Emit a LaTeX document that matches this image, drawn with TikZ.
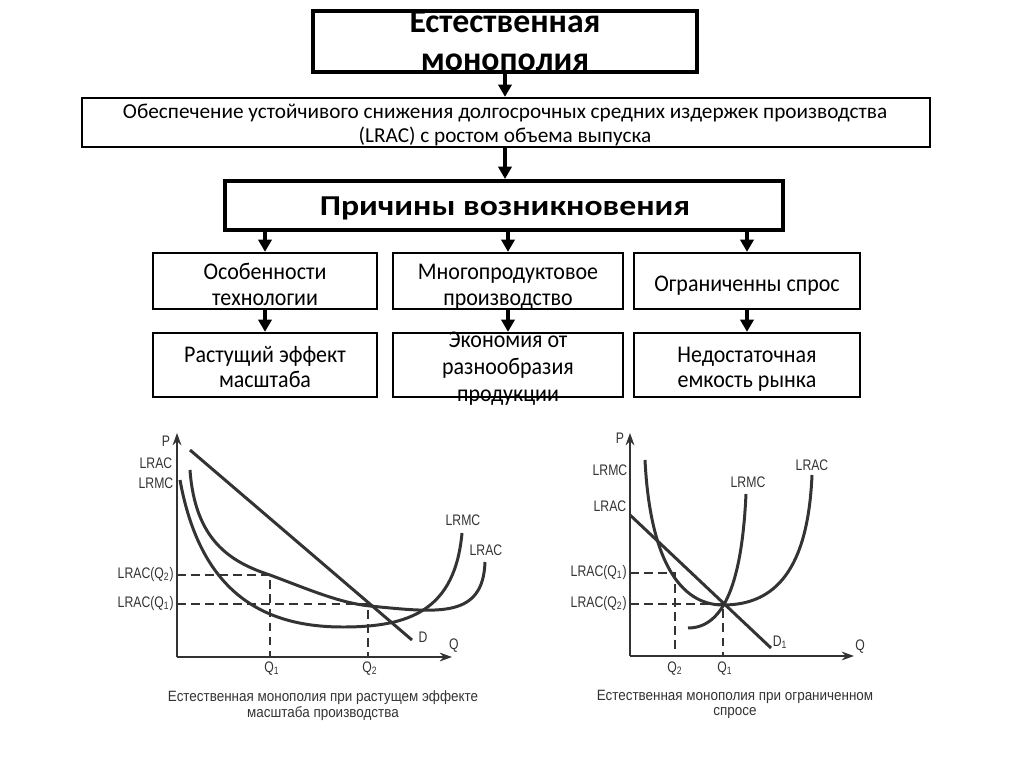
\documentclass[tikz,border=0pt]{standalone}
\usepackage{fontspec}
\setmainfont{Carlito}
\newfontfamily\gf[FakeStretch=0.8]{Liberation Sans}
\newfontfamily\gc[FakeStretch=0.9]{Liberation Sans}
\newfontfamily\bxf[FakeStretch=0.92]{Carlito}
\newfontfamily\prf[FakeStretch=1.17]{Carlito}
\usetikzlibrary{arrows.meta}
\definecolor{ink}{HTML}{333333}
\begin{document}
\begin{tikzpicture}[x=0.02cm,y=-0.02cm,
  thickbox/.style={draw, line width=2.3pt, inner sep=0pt},
  thinbox/.style={draw, line width=1.3pt, inner sep=0pt},
  ttl/.style={font=\bfseries\fontsize{19.2pt}{22pt}\selectfont, anchor=base, inner sep=0pt},
  prt/.style={font=\prf\bfseries\fontsize{16.4pt}{20pt}\selectfont, anchor=base, inner sep=0pt},
  mid/.style={font=\fontsize{12.1pt}{14pt}\selectfont, anchor=base, inner sep=0pt},
  bt/.style={font=\bxf\fontsize{13.6pt}{16pt}\selectfont, anchor=base, inner sep=0pt},
  flow/.style={-{Triangle[length=7pt,width=7.5pt]}, line width=1.8pt},
  axis/.style={-{Stealth[length=7pt,width=5pt]}, line width=0.9pt, draw=ink},
  crv/.style={line width=1.7pt, draw=ink},
  guide/.style={draw=ink, line width=0.6pt, dash pattern=on 5pt off 3pt},
  gl/.style={font=\gf\fontsize{8.7pt}{10pt}\selectfont, text=ink, inner sep=0pt},
  captxt/.style={font=\gc\fontsize{8.5pt}{10pt}\selectfont, text=ink, inner sep=0pt}
]
\useasboundingbox (0,0) rectangle (1024,767);
% ---------- flow chart ----------
\node[thickbox, minimum width=7.70cm, minimum height=1.22cm] (top) at (505,41.5) {};
\node[thinbox, minimum width=16.96cm, minimum height=0.98cm] (lr) at (506,122.5) {};
\node[thickbox, minimum width=11.16cm, minimum height=0.98cm] (pr) at (504,205.5) {};
\node[thinbox, minimum width=4.48cm, minimum height=1.12cm] (a1) at (265,281) {};
\node[thinbox, minimum width=4.60cm, minimum height=1.12cm] (b1) at (508,281) {};
\node[thinbox, minimum width=4.52cm, minimum height=1.12cm] (c1) at (747,281) {};
\node[thinbox, minimum width=4.48cm, minimum height=1.28cm] (a2) at (265,365) {};
\node[thinbox, minimum width=4.60cm, minimum height=1.28cm] (b2) at (508,365) {};
\node[thinbox, minimum width=4.52cm, minimum height=1.28cm] (c2) at (747,365) {};

\node[ttl] (t1) at (505,33) {Естественная};
\node[ttl] (t2) at (505,71) {монополия};
\node[mid] (l1) at (505,118) {Обеспечение устойчивого снижения долгосрочных средних издержек производства};
\node[mid] (l2) at (505,142) {(LRAC) с ростом объема выпуска};
\node[prt] (p1) at (505,215) {Причины возникновения};
\node[bt] (a1t) at (265,279) {Особенности};
\node[bt] (a1u) at (265,305) {технологии};
\node[bt] (b1t) at (508,279) {Многопродуктовое};
\node[bt] (b1u) at (508,305) {производство};
\node[bt] (c1t) at (747,291) {Ограниченны спрос};
\node[bt] (a2t) at (265,362) {Растущий эффект};
\node[bt] (a2u) at (265,387) {масштаба};
\node[bt] (b2t) at (508,347) {Экономия от};
\node[bt] (b2u) at (508,374) {разнообразия};
\node[bt] (b2v) at (508,401) {продукции};
\node[bt] (c2t) at (747,362) {Недостаточная};
\node[bt] (c2u) at (747,387) {емкость рынка};

\draw[flow] (top.south) -- (top.south |- lr.north);
\draw[flow] (lr.south -| top.south) -- (top.south |- pr.north);
\draw[flow] (pr.south -| a1.north) -- (a1.north);
\draw[flow] (pr.south -| b1.north) -- (b1.north);
\draw[flow] (pr.south -| c1.north) -- (c1.north);
\draw[flow] (a1.south) -- (a2.north);
\draw[flow] (b1.south) -- (b2.north);
\draw[flow] (c1.south) -- (c2.north);

% ---------- graph 1 ----------
\coordinate (O1) at (177,657);
\coordinate (Y1) at (177,433);
\coordinate (X1) at (452,657);
\draw[axis] (O1) -- (Y1);
\draw[axis] (O1) -- (X1);
\draw[guide] (177,575) -- (270,575) -- (270,657);
\draw[guide] (177,604) -- (368,604) -- (368,657);
\draw[crv] (190,450) -- (412,640);
\draw[crv] (180,480) .. controls (200,590) and (260,627) .. (343,627)
           .. controls (410,627) and (455,610) .. (462,533);
\draw[crv] (190,470) .. controls (195,540) and (230,562) .. (270,575)
           .. controls (310,590) and (340,603) .. (370,606)
           .. controls (440,613) and (483,618) .. (485,562);
\node[gl] (g1p) at (166,441) {P};
\node[gl] (g1a) at (156,463) {LRAC};
\node[gl] (g1m) at (156,483) {LRMC};
\node[gl, anchor=east] (g1q2) at (174,575) {LRAC(Q\textsubscript{2})};
\node[gl, anchor=east] (g1q1) at (174,604) {LRAC(Q\textsubscript{1})};
\node[gl] (g1x1) at (272,669) {Q\textsubscript{1}};
\node[gl] (g1x2) at (370,669) {Q\textsubscript{2}};
\node[gl] (g1q) at (454,646) {Q};
\node[gl] (g1d) at (423,637) {D};
\node[gl] (g1mr) at (463,520) {LRMC};
\node[gl] (g1ar) at (486,550) {LRAC};
\node[captxt] (g1c1) at (323,698) {Естественная монополия при растущем эффекте};
\node[captxt] (g1c2) at (323,714) {масштаба производства};

% ---------- graph 2 ----------
\coordinate (O2) at (630,656);
\coordinate (Y2) at (630,433);
\coordinate (X2) at (854,656);
\draw[axis] (O2) -- (Y2);
\draw[axis] (O2) -- (X2);
\draw[guide] (630,573) -- (675,573) -- (675,656);
\draw[guide] (630,604) -- (723,604) -- (723,656);
\draw[crv] (630,515) -- (771,648);
\draw[crv] (645,460) .. controls (650,560) and (680,605) .. (723,605)
           .. controls (775,605) and (808,570) .. (812,475);
\draw[crv] (688,628) .. controls (725,628) and (742,580) .. (746,494);
\node[gl] (g2p) at (620,438) {P};
\node[gl] (g2m) at (610,470) {LRMC};
\node[gl] (g2a) at (610,506) {LRAC};
\node[gl, anchor=east] (g2q1) at (627,573) {LRAC(Q\textsubscript{1})};
\node[gl, anchor=east] (g2q2) at (627,604) {LRAC(Q\textsubscript{2})};
\node[gl] (g2x2) at (675,669) {Q\textsubscript{2}};
\node[gl] (g2x1) at (725,669) {Q\textsubscript{1}};
\node[gl] (g2q) at (860,647) {Q};
\node[gl] (g2d) at (780,642) {D\textsubscript{1}};
\node[gl] (g2mr) at (748,482) {LRMC};
\node[gl] (g2ar) at (812,465) {LRAC};
\node[captxt] (g2c1) at (735,697) {Естественная монополия при ограниченном};
\node[captxt] (g2c2) at (735,713) {спросе};
\end{tikzpicture}
\end{document}
